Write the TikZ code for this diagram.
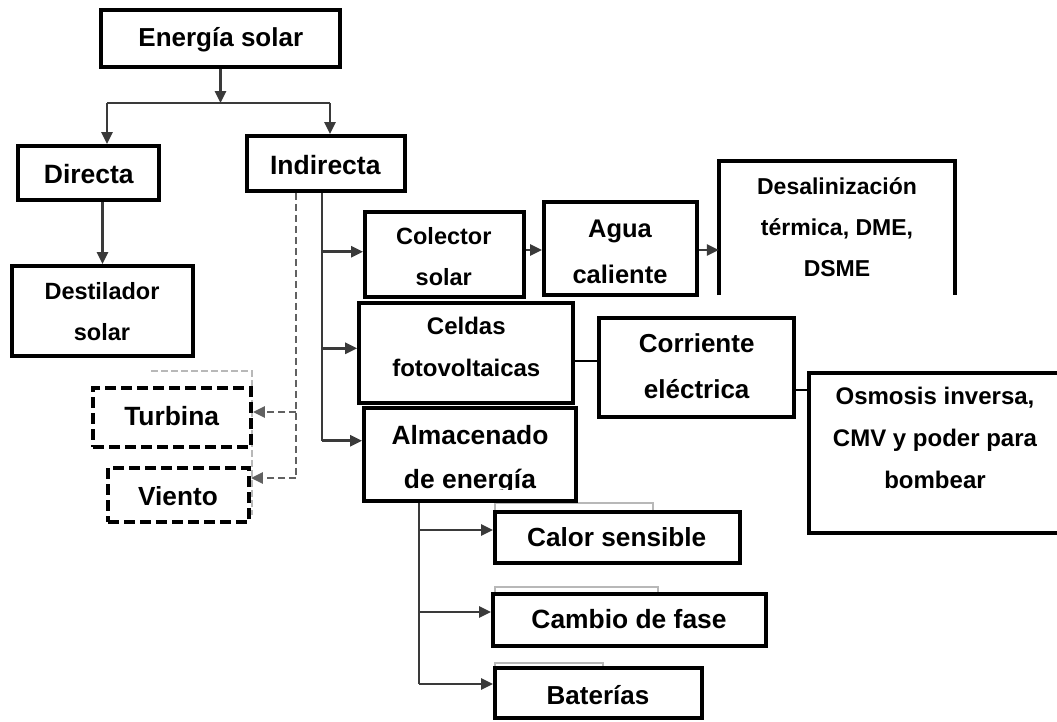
\documentclass[tikz,border=0pt]{standalone}
\usepackage{fontspec}
\setmainfont{Liberation Sans}
\usetikzlibrary{arrows.meta}
\definecolor{conn}{HTML}{3A3A3A}
\definecolor{ghostc}{HTML}{B8B8B8}
\begin{document}
\begin{tikzpicture}[x=1pt,y=-1pt,
  box/.style={draw=black, line width=3.8pt, inner sep=0pt},
  dbox/.style={draw=black, line width=3.8pt, inner sep=0pt, dash pattern=on 11pt off 5pt},
  openbox/.style={draw=none, inner sep=0pt},
  sz/.style 2 args={minimum width=#1, minimum height=#2},
  txt/.style={inner sep=0pt, align=center},
  tf/.style 2 args={font=\bfseries\fontsize{#1}{#2}\selectfont},
  cn/.style={draw=conn, line width=2.6pt},
  bcn/.style={draw=black, line width=2.4pt},
  dcn/.style={draw=conn!80, line width=2.4pt, dash pattern=on 7pt off 4pt},
  arr/.style={-{Triangle[length=12pt,width=11pt]}},
  ghost/.style={draw=ghostc, line width=1.2pt}
]
\useasboundingbox (0,0) rectangle (1057,721);
\fill[white] (0,0) rectangle (1057,721);

% ghost outlines
\draw[ghost, dash pattern=on 7pt off 3pt] (151,371) -- (252,371) -- (252,515);
\draw[ghost] (495,512) -- (495,503) -- (653,503) -- (653,512);
\draw[ghost] (495,594) -- (495,587) -- (658,587) -- (658,594);
\draw[ghost] (495,668) -- (495,663) -- (603,663) -- (603,668);

% boxes
\node[box, sz={239}{57}] (es) at (220.5,38.5) {};
\node[txt, tf={26}{30}, anchor=base] (es-t) at (220.8,46.5) {Energía solar};

\node[box, sz={141}{54}] (dir) at (88.5,173) {};
\node[txt, tf={26.5}{30}, anchor=base] (dir-t) at (88.8,183.3) {Directa};

\node[box, sz={158}{55}] (ind) at (326,163.5) {};
\node[txt, tf={26.5}{30}, anchor=base] (ind-t) at (325.3,174.3) {Indirecta};

\node[box, sz={181}{90}] (dest) at (102.5,311) {};
\node[txt, tf={23.5}{41.4}] (dest-t) at (102,311.4) {Destilador\\solar};

\node[dbox, sz={158}{59}] (turb) at (172,417.5) {};
\node[txt, tf={26.4}{30}, anchor=base] (turb-t) at (171.7,425) {Turbina};

\node[dbox, sz={141}{54}] (vien) at (178.5,495) {};
\node[txt, tf={26.2}{30}, anchor=base] (vien-t) at (178,505) {Viento};

\node[box, sz={159}{85}] (col) at (444.5,254.5) {};
\node[txt, tf={23.5}{41}] (col-t) at (443.8,256.9) {Colector\\solar};
\fill[white] (367,286.5) rectangle (522,293);

\node[box, sz={153}{93}] (agua) at (620.5,248.5) {};
\node[txt, tf={25.5}{45.6}] (agua-t) at (620,252) {Agua\\caliente};
\fill[white] (546,284) rectangle (695,291);

\node[openbox, sz={236}{134}] (desal) at (837,228) {};
\draw[black, line width=3.8pt] (desal.south west) -- (desal.north west) -- (desal.north east) -- (desal.south east);
\node[txt, tf={23}{40.9}] (desal-t) at (837,227.2) {Desalinización\\térmica, DME,\\DSME};

\node[box, sz={214}{100}] (celdas) at (466,353) {};
\node[txt, tf={24}{42}] (celdas-t) at (466.3,347.3) {Celdas\\fotovoltaicas};

\node[box, sz={195}{99}] (corr) at (696.5,367.5) {};
\node[txt, tf={26}{46}] (corr-t) at (696.7,366.5) {Corriente\\eléctrica};

\node[openbox, sz={249}{160}] (osm) at (933.5,453) {};
\draw[black, line width=3.8pt] (osm.north east) -- (osm.north west) -- (osm.south west) -- (osm.south east);
\node[txt, tf={24}{41.7}] (osm-t) at (935,437.8) {Osmosis inversa,\\CMV y poder para\\bombear};

\node[box, sz={212}{93}] (alm) at (470,454.5) {};
\node[txt, tf={26.4}{44}] (alm-t) at (470,460.1) {Almacenado\\de energía};
\fill[white] (366,489.5) rectangle (574,499);

\node[box, sz={245}{51}] (calor) at (617.5,537.5) {};
\node[txt, tf={26.2}{30}, anchor=base] (calor-t) at (616.7,546) {Calor sensible};

\node[box, sz={273}{52}] (cambio) at (629.5,620) {};
\node[txt, tf={26.4}{30}, anchor=base] (cambio-t) at (629,628) {Cambio de fase};

\node[box, sz={207}{50}] (bat) at (598.5,693) {};
\node[txt, tf={26}{30}, anchor=base] (bat-t) at (598,704) {Baterías};

% connectors from Energia solar
\coordinate (jes) at (220.5,103);
\coordinate (jd) at (107,103);
\coordinate (ji) at (330,103);
\draw[cn, arr] (es.south) -- (jes);
\draw[cn] (jd) -- (ji);
\draw[cn, arr] (jd) -- (jd |- dir.north);
\draw[cn, arr] (ji) -- (ji |- ind.north);
\draw[cn, arr] (dir.south -| dest.north) -- (dest.north);

% Indirecta trunk
\coordinate (tA) at (322,251.7);
\coordinate (tB) at (322,348.3);
\coordinate (tC) at (322,440.7);
\draw[cn] (ind.south -| tC) -- (tC);
\draw[cn, arr] (tA) -- (tA -| col.west);
\draw[cn, arr] (tB) -- (tB -| celdas.west);
\draw[cn, arr] (tC) -- (tC -| alm.west);

% dashed branch
\coordinate (dA) at (296,412);
\coordinate (dB) at (296,478);
\draw[dcn] (ind.south -| dB) -- (dB);
\draw[dcn, arr] (dA) -- (dA -| turb.east);
\draw[dcn, arr] (dB) -- (dB -| vien.east);

% chain
\coordinate (r1) at (0,250);
\coordinate (r2) at (0,361);
\coordinate (r3) at (0,390);
\draw[cn, arr] (col.east |- r1) -- (agua.west |- r1);
\draw[cn, arr] (agua.east |- r1) -- (desal.west |- r1);
\draw[bcn] (celdas.east |- r2) -- (corr.west |- r2);
\draw[bcn] (corr.east |- r3) -- (osm.west |- r3);

% storage trunk
\coordinate (aA) at (419,530);
\coordinate (aB) at (419,612);
\coordinate (aC) at (419,684);
\draw[cn] (alm.south -| aC) -- (aC);
\draw[cn, arr] (aA) -- (aA -| calor.west);
\draw[cn, arr] (aB) -- (aB -| cambio.west);
\draw[cn, arr] (aC) -- (aC -| bat.west);
\end{tikzpicture}
\end{document}
